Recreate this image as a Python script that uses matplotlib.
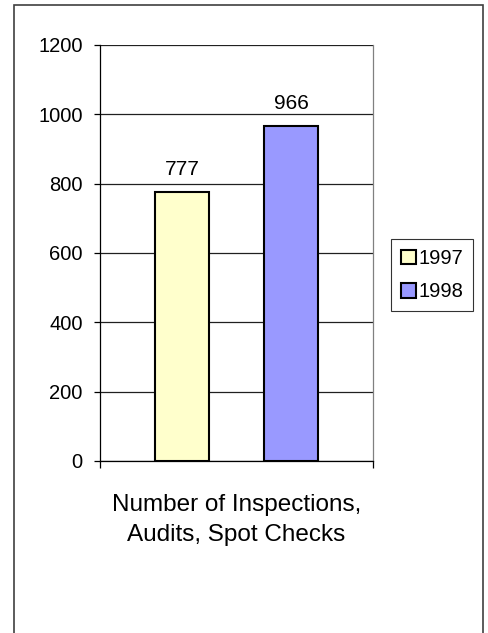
import numpy as np
import matplotlib.pyplot as plt
from matplotlib.patches import Rectangle

plt.rcParams['font.family'] = ['Liberation Sans', 'DejaVu Sans']

# data
series = ['1997', '1998']
values = [777, 966]
colors = ['#FFFFCC', '#9999FF']
category = 'Number of Inspections,\nAudits, Spot Checks'
yticks = [0, 200, 400, 600, 800, 1000, 1200]

fig = plt.figure(figsize=(4.88, 6.33), dpi=100)

# outer chart border (bottom edge is cut off in the original)
fig.patches.append(Rectangle((14 / 488, -0.01), (483 - 14) / 488, (633 - 5) / 633 + 0.01,
                             transform=fig.transFigure, fill=False,
                             edgecolor='#404040', linewidth=1.2))

ax = fig.add_axes([100 / 488, (633 - 461) / 633, 273 / 488, 416 / 633])

x = np.arange(len(values))
bars = ax.bar(x, values, width=0.5, color=colors, edgecolor='black', linewidth=1.5,
              label=series, zorder=3)
for xi, v in zip(x, values):
    ax.annotate(str(v), (xi, v), xytext=(0, 12), textcoords='offset points',
                ha='center', va='baseline', fontsize=15)

ax.set_xlim(-0.75, 1.75)
ax.set_ylim(0, 1200)
ax.set_yticks(yticks)
ax.set_yticklabels([str(t) for t in yticks], fontsize=14.5)
ax.yaxis.grid(True, color='#202020', linewidth=0.9, zorder=0)
ax.tick_params(axis='y', length=4.5, width=0.9, pad=8)

ax.set_xticks([-0.75, 1.75])
ax.set_xticklabels(['', ''])
ax.tick_params(axis='x', length=5, width=0.9, direction='out')
ax.text(0.5, -59 / 416, category, transform=ax.transAxes, ha='center', va='center',
        fontsize=17.5, linespacing=1.45)

ax.spines['top'].set_visible(False)
ax.spines['left'].set_color('black')
ax.spines['bottom'].set_color('black')
ax.spines['right'].set_color('#808080')
for s in ax.spines.values():
    s.set_linewidth(0.9)

leg = fig.legend(handles=list(bars), labels=series, loc='upper left',
                 bbox_to_anchor=(391 / 488, 1 - 239 / 633), fontsize=14.5,
                 frameon=True, fancybox=False, edgecolor='black',
                 handlelength=0.75, handleheight=0.75, handletextpad=0.1,
                 borderpad=0.5, labelspacing=0.7, borderaxespad=0)
leg.get_frame().set_linewidth(0.8)

fig.savefig('out.png', dpi=100)
